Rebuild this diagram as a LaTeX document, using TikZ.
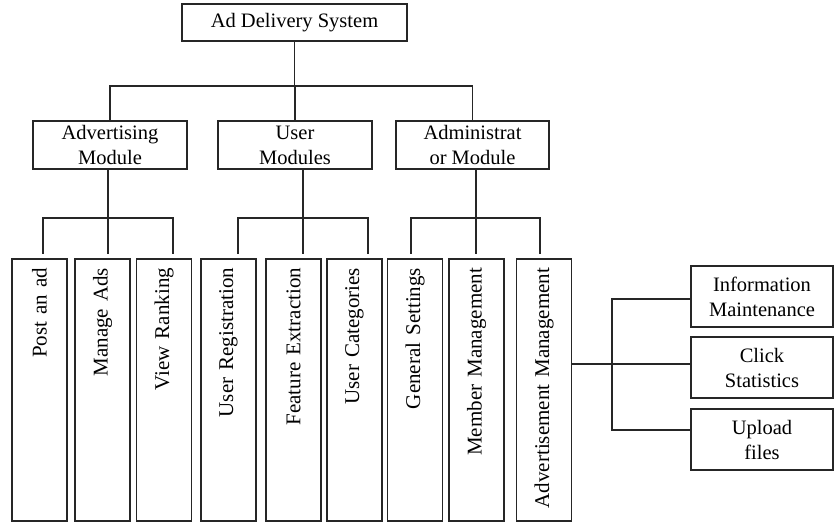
\documentclass[tikz,border=0pt]{standalone}
\usepackage{fontspec}
\setmainfont{Liberation Serif}
\begin{document}
\begin{tikzpicture}[x=1pt,y=1pt,
  hbox/.style={draw=black!85, line width=1.2pt, rectangle, align=center, inner sep=0pt, font=\fontsize{20.5}{25}\selectfont},
  vbox/.style={draw=black!85, line width=1.2pt, rectangle, rotate=90, minimum width=262pt, minimum height=55pt,
     inner xsep=9pt, inner ysep=0pt, text width=244pt, align=right, font=\fontsize{21}{25}\selectfont},
  link/.style={line width=1.2pt, draw=black!85}]
\useasboundingbox (0,0) rectangle (835,525);
% top
\node[hbox, minimum width=225pt, minimum height=37pt] (top) at (294.5,502.5) {Ad Delivery System};
% level 2
\node[hbox, minimum width=154pt, minimum height=48pt] (adv) at (110,380) {Advertising\\Module};
\node[hbox, minimum width=154pt, minimum height=48pt] (user) at (295,380) {User\\Modules};
\node[hbox, minimum width=153pt, minimum height=48pt] (admin) at (472.5,380) {Administrat\\or Module};
% level 3
\node[vbox] (post) at (39.5,135) {Post an ad};
\node[vbox] (manage) at (102.5,135) {Manage Ads};
\node[vbox] (view) at (164,135) {View Ranking};
\node[vbox] (ureg) at (228.5,135) {User Registration};
\node[vbox] (feat) at (293.5,135) {Feature Extraction};
\node[vbox] (ucat) at (354.5,135) {User Categories};
\node[vbox] (gen) at (415,135) {General Settings};
\node[vbox] (member) at (476.5,135) {Member Management};
\node[vbox] (advm) at (544,135) {Advertisement Management};
% right side
\node[hbox, minimum width=142pt, minimum height=61pt] (info) at (762,228.5) {Information\\Maintenance};
\node[hbox, minimum width=142pt, minimum height=61pt] (click) at (762,157.5) {Click\\Statistics};
\node[hbox, minimum width=142pt, minimum height=61pt] (upload) at (762,85.5) {Upload\\files};
% bus coordinates
\coordinate (b1) at (0,439);
\coordinate (b2) at (0,307);
\coordinate (d1) at (43,271);
\coordinate (d2) at (108,271);
\coordinate (d3) at (173,271);
\coordinate (d4) at (238,271);
\coordinate (d5) at (303,271);
\coordinate (d6) at (368,271);
\coordinate (d7) at (411,271);
\coordinate (d8) at (476,271);
\coordinate (d9) at (540,271);
\coordinate (jn) at (612,95);
% level 1 connectors
\draw[link] (top.south) -- (top.south |- b1);
\draw[link] (adv.north) |- (top.south |- b1) -| (admin.north);
\draw[link] (user.north) -- (user.north |- b1);
% level 2 connectors
\draw[link] (d2 |- adv.south) -- (d2 |- b2);
\draw[link] (d1) |- (d3 |- b2) -- (d3);
\draw[link] (d2) -- (d2 |- b2);
\draw[link] (d5 |- user.south) -- (d5 |- b2);
\draw[link] (d4) |- (d6 |- b2) -- (d6);
\draw[link] (d5) -- (d5 |- b2);
\draw[link] (d8 |- admin.south) -- (d8 |- b2);
\draw[link] (d7) |- (d9 |- b2) -- (d9);
\draw[link] (d8) -- (d8 |- b2);
% right connectors
\draw[link] ([yshift=3.5pt]click.west) -- ([yshift=3.5pt]click.west -| advm.south);
\draw[link] ([yshift=-2.5pt]info.west) -| (jn) -- (jn -| upload.west);
\end{tikzpicture}
\end{document}
